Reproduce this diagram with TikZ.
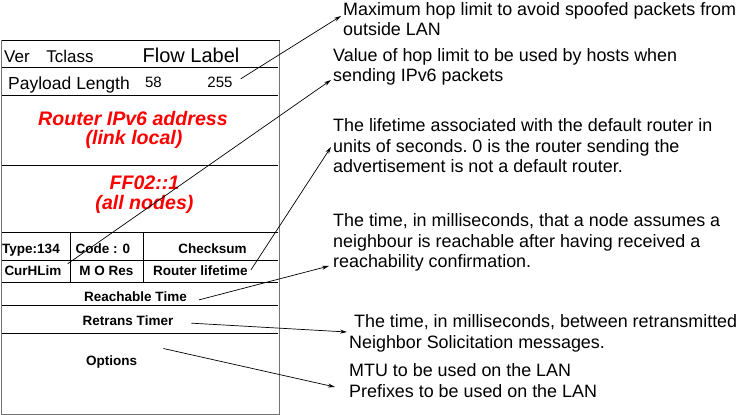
\documentclass[tikz,border=0pt]{standalone}
\usepackage{fontspec}
\setmainfont{Liberation Sans}
\usetikzlibrary{arrows.meta}

\begin{document}
\begin{tikzpicture}[x=1pt, y=-1pt,
    hdr/.style={inner sep=0pt, anchor=base, font=\fontsize{17}{20}\selectfont},
    field/.style={inner sep=0pt, anchor=base, font=\fontsize{13.5}{16}\selectfont\bfseries},
    addr/.style={inner sep=0pt, anchor=base, text=red, font=\fontsize{19.6}{21}\selectfont\bfseries\itshape},
    note/.style={inner sep=0pt, anchor=base west, align=left, font=\fontsize{17.9}{20.5}\selectfont},
    ptr/.style={-{Stealth[length=7pt, width=4pt]}, line width=0.7pt}]
  \useasboundingbox (0,0) rectangle (737,415);
  % the router advertisement packet
  \draw[black!55, line width=1.5pt] (1.5,40.5) rectangle (279.5,415);
  \draw[line width=1pt]
    (1.5,40.5) -- (279.5,40.5)
    (1.5,67.7) -- (278,67.7)
    (1.5,95.7) -- (278,95.7)
    (1.5,165) -- (278,165)
    (1.5,232.3) -- (278,232.3)
    (1.5,260) -- (278,260)
    (1.5,282.3) -- (278,282.3)
    (1.5,305) -- (278,305)
    (1.5,333.3) -- (278,333.3)
    (70,232.3) -- (70,283)
    (143.3,232.3) -- (143.3,282.3)
    ;
  \node[hdr] (ver) at (17,62) {Ver};
  \node[hdr] (tclass) at (70,62) {Tclass};
  \node[hdr, font=\fontsize{20}{24}\selectfont] (flow) at (191,62) {Flow Label};
  \node[hdr, font=\fontsize{17.5}{20}\selectfont] (paylen) at (69,89.3) {Payload Length};
  \node[hdr, font=\fontsize{15}{18}\selectfont] (hop58) at (153.5,87) {58};
  \node[hdr, font=\fontsize{15}{18}\selectfont] (hop255) at (220,87) {255};
  \node[addr] (src1) at (133,125) {Router IPv6 address};
  \node[addr] (src2) at (134,144) {(link local)};
  \node[addr] (dst1) at (144.5,189.5) {FF02::1};
  \node[addr] (dst2) at (144.5,209.3) {(all nodes)};
  \node[field] (type) at (31,253) {Type:134};
  \node[field] (code) at (103,253) {Code : 0};
  \node[field] (checksum) at (212.5,253) {Checksum};
  \node[field] (curhlim) at (33,275.7) {CurHLim};
  \node[field] (mores) at (106.5,275.7) {M O Res};
  \node[field] (lifetime) at (200.5,275.7) {Router lifetime};
  \node[field] (reach) at (135.5,301.7) {Reachable Time};
  \node[field] (retrans) at (128,325) {Retrans Timer};
  \node[field] (options) at (111.7,365) {Options};
  % what the fields mean (placed at the baseline of their last line)
  \node[note] (maxhop) at (343,35.5) {Maximum hop limit to avoid spoofed packets from\\outside LAN};
  \node[note] (curhop) at (333,81.5) {Value of hop limit to be used by hosts when\\sending IPv6 packets};
  \node[note] (lifenote) at (333,172.7) {The lifetime associated with the default router in\\units of seconds.\ 0 is the router sending the\\advertisement is not a default router.};
  \node[note] (reachnote) at (333,267.7) {The time, in milliseconds, that a node assumes a\\neighbour is reachable after having received a\\reachability confirmation.};
  \node[note] (retransnote) at (349,348.2) {\ The time, in milliseconds, between retransmitted\\Neighbor Solicitation messages.};
  \node[note] (optnote) at (349,397.2) {MTU to be used on the LAN\\Prefixes to be used on the LAN};
  \draw[ptr] ([shift={(8,-3)}]hop255.east) -- ([shift={(-2,-19.5)}]maxhop.base west);
  \draw[ptr] ([shift={(6,-2)}]curhlim.north east) -- ([shift={(-2,-1.5)}]curhop.base west);
  \draw[ptr] ([shift={(3,-1)}]lifetime.east) -- ([shift={(-2,-25.7)}]lifenote.base west);
  \draw[ptr] ([shift={(12,3)}]reach.east) -- ([shift={(-4,-1.7)}]reachnote.base west);
  \draw[ptr] ([shift={(18,3)}]retrans.east) -- ([shift={(-2,-16.2)}]retransnote.base west);
  \draw[ptr] ([shift={(26,-13)}]options.east) -- ([shift={(-14,-10.2)}]optnote.base west);
\end{tikzpicture}
\end{document}
